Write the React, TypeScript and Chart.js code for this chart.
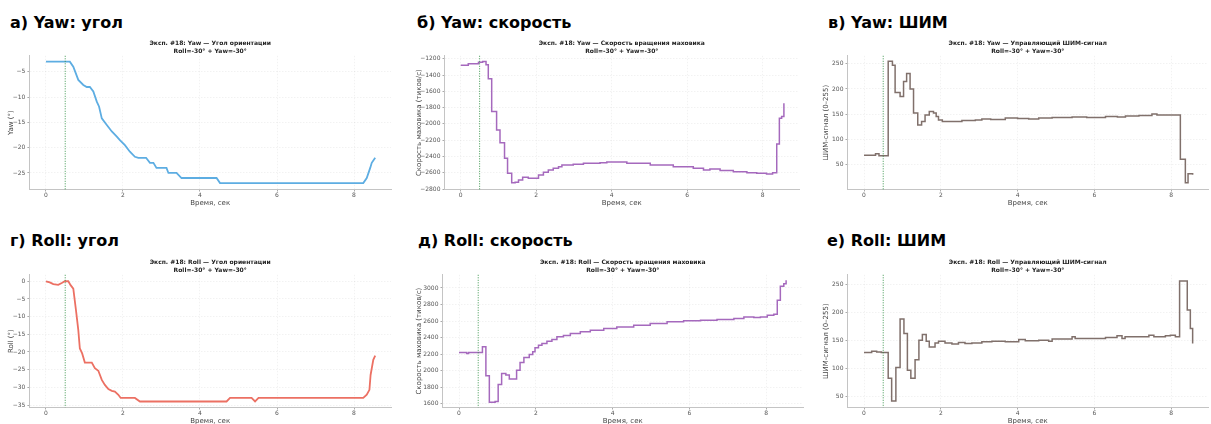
import React, { useEffect, useRef } from "react";
import { Chart, registerables } from "chart.js";

Chart.register(...registerables);

const FONT = "'DejaVu Sans', sans-serif";

// ---------- shared ----------
const timeTicks = [0, 2, 4, 6, 8];
const timeMin = -0.43;
const timeMax = 8.96;
const eventTime = 0.5;
const subtitleLine2 = "Roll=-30° + Yaw=-30°";
const xAxisTitle = "Время, сек";

// ---------- а) Yaw angle ----------
const yawAngleT = [0, 0.3, 0.62, 0.71, 0.84, 0.97, 1.06, 1.14, 1.23, 1.32, 1.38, 1.45, 1.58, 1.71, 1.84, 1.92, 2.05, 2.18, 2.31, 2.4, 2.6, 2.7, 2.79, 2.87, 3.13, 3.18, 3.39, 3.52, 4.43, 4.52, 8.24, 8.33, 8.42, 8.46, 8.55];
const yawAngleV = [-3, -3, -3, -4, -6.6, -7.6, -8, -8, -8.9, -10.9, -11.9, -14.2, -15.5, -16.8, -17.8, -18.5, -19.5, -20.8, -21.8, -22, -22, -23, -23, -24, -24, -25, -25, -26, -26, -27, -27, -26, -24, -23, -22];
const yawAngleTicks = [-25, -20, -15, -10, -5];

// ---------- б) Yaw wheel speed ----------
const yawSpeedT = [0, 0.2, 0.47, 0.58, 0.67, 0.73, 0.82, 0.95, 1.04, 1.16, 1.24, 1.35, 1.44, 1.53, 1.64, 1.79, 2.06, 2.19, 2.32, 2.45, 2.59, 2.68, 2.98, 3.25, 3.69, 3.87, 4.4, 5.02, 5.63, 6.16, 6.43, 6.6, 6.87, 7.22, 7.58, 7.84, 8.1, 8.26, 8.37, 8.44, 8.5, 8.56];
const yawSpeedV = [-1278, -1262, -1241, -1233, -1274, -1446, -1848, -2074, -2230, -2422, -2607, -2722, -2718, -2689, -2656, -2669, -2628, -2595, -2566, -2546, -2525, -2505, -2496, -2484, -2476, -2468, -2484, -2505, -2525, -2546, -2566, -2554, -2574, -2587, -2599, -2607, -2615, -2599, -2246, -1930, -1910, -1746];
const yawSpeedTicks = [-2800, -2600, -2400, -2200, -2000, -1800, -1600, -1400, -1200];

// ---------- в) Yaw PWM ----------
const yawPwmT = [0, 0.3, 0.39, 0.63, 0.74, 0.81, 0.94, 1.03, 1.11, 1.2, 1.29, 1.4, 1.5, 1.59, 1.7, 1.81, 1.88, 1.94, 2.04, 2.55, 2.9, 3.07, 3.3, 3.68, 4.0, 4.29, 4.55, 4.9, 5.42, 5.8, 6.29, 6.6, 6.81, 7.16, 7.5, 7.63, 8.24, 8.37, 8.44, 8.56];
const yawPwmV = [68, 71, 67, 255, 247, 193, 185, 215, 231, 200, 152, 128, 135, 148, 155, 152, 145, 138, 135, 137, 138, 140, 139, 142, 141, 140, 142, 143, 144, 143, 145, 144, 146, 147, 150, 148, 60, 13, 31, 29];
const pwmTicks = [50, 100, 150, 200, 250];

// ---------- г) Roll angle ----------
const rollAngleT = [0, 0.1, 0.19, 0.32, 0.41, 0.49, 0.58, 0.64, 0.71, 0.78, 0.84, 0.88, 0.94, 1.01, 1.19, 1.27, 1.36, 1.45, 1.53, 1.62, 1.71, 1.79, 1.88, 1.94, 2.31, 2.44, 4.69, 4.78, 5.34, 5.43, 5.52, 8.24, 8.33, 8.4, 8.43, 8.5, 8.55];
const rollAngleV = [0, -0.3, -0.8, -1, -0.5, 0, 0, -1.1, -2.1, -8.2, -13.8, -19, -20.4, -23, -23, -24.6, -25.3, -27.9, -29.3, -30.5, -31, -31.2, -32.1, -33, -33, -34, -34, -33, -33, -34, -33, -33, -32.1, -30.7, -26.5, -22.2, -21];
const rollAngleTicks = [-35, -30, -25, -20, -15, -10, -5, 0];

// ---------- д) Roll wheel speed ----------
const rollSpeedT = [0, 0.2, 0.25, 0.61, 0.7, 0.79, 0.94, 1.02, 1.11, 1.22, 1.31, 1.5, 1.59, 1.69, 1.83, 1.92, 1.98, 2.07, 2.16, 2.29, 2.42, 2.55, 2.72, 2.9, 3.16, 3.42, 3.77, 4.11, 4.55, 4.98, 5.42, 5.85, 6.29, 6.72, 7.16, 7.42, 7.68, 7.85, 8.03, 8.2, 8.29, 8.37, 8.46, 8.52];
const rollSpeedV = [2220, 2207, 2220, 2288, 1938, 1616, 1628, 1833, 1966, 1946, 1898, 2006, 2099, 2159, 2195, 2228, 2276, 2308, 2328, 2356, 2376, 2409, 2425, 2449, 2469, 2489, 2509, 2529, 2549, 2570, 2590, 2602, 2610, 2618, 2630, 2650, 2642, 2650, 2670, 2682, 2851, 3020, 3052, 3093];
const rollSpeedTicks = [1600, 1800, 2000, 2200, 2400, 2600, 2800, 3000];

// ---------- е) Roll PWM ----------
const rollPwmT = [0, 0.2, 0.33, 0.45, 0.63, 0.72, 0.83, 0.94, 1.04, 1.13, 1.22, 1.33, 1.43, 1.52, 1.62, 1.7, 1.85, 1.94, 2.11, 2.29, 2.46, 2.63, 2.81, 3.07, 3.33, 3.68, 4.03, 4.2, 4.55, 4.81, 4.9, 5.42, 5.5, 5.85, 6.29, 6.59, 6.72, 6.8, 7.16, 7.42, 7.55, 7.85, 7.98, 8.11, 8.22, 8.42, 8.5, 8.56];
const rollPwmV = [128, 130, 129, 128, 82, 41, 101, 188, 162, 96, 82, 115, 150, 160, 148, 138, 145, 148, 145, 143, 146, 144, 145, 147, 148, 147, 151, 149, 150, 148, 152, 156, 153, 153, 155, 158, 153, 156, 156, 159, 156, 158, 159, 156, 256, 204, 171, 144];

type Area = { L: number; R: number; T: number; B: number };
type PanelSpec = {
  label: string;
  title1: string;
  yTitle: string;
  t: number[];
  v: number[];
  stepped: boolean;
  color: string;
  lineWidth: number;
  yMin: number;
  yMax: number;
  yTicks: number[];
  area: Area;
  yTitleX: number;
  xTitleY: number;
  labelX: number;
  labelTop: number;
};

const ANGLE_BLUE = "#5dade2";
const ANGLE_RED = "#ec7063";
const SPEED_PURPLE = "#a569bd";
const PWM_BROWN = "#80706b";

const panels: PanelSpec[] = [
  {
    label: "а) Yaw: угол", title1: "Эксп. #18: Yaw — Угол ориентации", yTitle: "Yaw (°)",
    t: yawAngleT, v: yawAngleV, stepped: false, color: ANGLE_BLUE, lineWidth: 1.8,
    yMin: -28.27, yMax: -1.83, yTicks: yawAngleTicks,
    area: { L: 29.4, R: 390.9, T: 56, B: 189.5 }, yTitleX: 10.7, xTitleY: 202.7, labelX: 10, labelTop: 13,
  },
  {
    label: "б) Yaw: скорость", title1: "Эксп. #18: Yaw — Скорость вращения маховика", yTitle: "Скорость маховика (тиков/с)",
    t: yawSpeedT, v: yawSpeedV, stepped: true, color: SPEED_PURPLE, lineWidth: 1.5,
    yMin: -2806, yMax: -1163, yTicks: yawSpeedTicks,
    area: { L: 444.5, R: 799, T: 56, B: 189.5 }, yTitleX: 419.3, xTitleY: 202.7, labelX: 417, labelTop: 13,
  },
  {
    label: "в) Yaw: ШИМ", title1: "Эксп. #18: Yaw — Управляющий ШИМ-сигнал", yTitle: "ШИМ-сигнал (0–255)",
    t: yawPwmT, v: yawPwmV, stepped: true, color: PWM_BROWN, lineWidth: 1.5,
    yMin: -0.2, yMax: 266, yTicks: pwmTicks,
    area: { L: 847.5, R: 1207.5, T: 56, B: 189.5 }, yTitleX: 825.7, xTitleY: 202.7, labelX: 828, labelTop: 13,
  },
  {
    label: "г) Roll: угол", title1: "Эксп. #18: Roll — Угол ориентации", yTitle: "Roll (°)",
    t: rollAngleT, v: rollAngleV, stepped: false, color: ANGLE_RED, lineWidth: 1.8,
    yMin: -35.7, yMax: 1.83, yTicks: rollAngleTicks,
    area: { L: 29.4, R: 390.9, T: 274.5, B: 407.5 }, yTitleX: 10.7, xTitleY: 421, labelX: 10, labelTop: 231,
  },
  {
    label: "д) Roll: скорость", title1: "Эксп. #18: Roll — Скорость вращения маховика", yTitle: "Скорость маховика (тиков/с)",
    t: rollSpeedT, v: rollSpeedV, stepped: true, color: SPEED_PURPLE, lineWidth: 1.5,
    yMin: 1554, yMax: 3159, yTicks: rollSpeedTicks,
    area: { L: 442.5, R: 802.5, T: 274.5, B: 407.5 }, yTitleX: 419.3, xTitleY: 421, labelX: 418, labelTop: 231,
  },
  {
    label: "е) Roll: ШИМ", title1: "Эксп. #18: Roll — Управляющий ШИМ-сигнал", yTitle: "ШИМ-сигнал (0–255)",
    t: rollPwmT, v: rollPwmV, stepped: true, color: PWM_BROWN, lineWidth: 1.5,
    yMin: 29.5, yMax: 267, yTicks: pwmTicks,
    area: { L: 847.5, R: 1207.5, T: 274.5, B: 407.5 }, yTitleX: 825.7, xTitleY: 421, labelX: 827, labelTop: 231,
  },
];

const fmt = (v: number) => String(v).replace("-", "\u2212");

function Panel({ p }: { p: PanelSpec }) {
  const ref = useRef<HTMLCanvasElement>(null);
  const canvasLeft = Math.round(p.yTitleX - 6);
  const canvasTop = Math.round(p.area.T - 20);
  const rightPad = 3;
  const width = Math.round(p.area.R + rightPad - canvasLeft);
  const canvasBottom = Math.round(p.xTitleY + 6);
  const height = canvasBottom - canvasTop;
  const yw = p.area.L - canvasLeft;
  const xh = canvasBottom - p.area.B;

  useEffect(() => {
    const eventLine = {
      id: "eventLine",
      afterDatasetsDraw(chart: any) {
        const { ctx, chartArea, scales } = chart;
        const x = scales.x.getPixelForValue(eventTime);
        ctx.save();
        ctx.strokeStyle = "rgba(40,140,60,0.9)";
        ctx.lineWidth = 1;
        ctx.setLineDash([1, 1.5]);
        ctx.beginPath();
        ctx.moveTo(x, chartArea.top);
        ctx.lineTo(x, chartArea.bottom);
        ctx.stroke();
        ctx.restore();
      },
    };
    const tickFont = { family: FONT, size: 6 };
    const chart = new Chart(ref.current as HTMLCanvasElement, {
      type: "line",
      data: {
        datasets: [
          {
            data: p.t.map((t, i) => ({ x: t, y: p.v[i] })),
            borderColor: p.color,
            borderWidth: p.lineWidth,
            pointRadius: 0,
            stepped: p.stepped ? "before" : false,
            tension: 0,
            fill: false,
          } as any,
        ],
      },
      options: {
        responsive: false,
        animation: false,
        devicePixelRatio: 1,
        layout: { padding: { left: 0, right: rightPad, top: 0, bottom: 0 }, autoPadding: false } as any,
        plugins: {
          legend: { display: false },
          tooltip: { enabled: false },
          title: {
            display: true,
            text: [p.title1, subtitleLine2],
            font: { family: FONT, size: 6, weight: "bold", lineHeight: 1.4 },
            color: "#222",
            padding: { top: 3, bottom: 0 },
            fullSize: false,
          },
        },
        scales: {
          x: {
            type: "linear",
            min: timeMin,
            max: timeMax,
            afterBuildTicks: (s: any) => {
              s.ticks = timeTicks.map((v) => ({ value: v }));
            },
            afterFit: (s: any) => {
              s.height = xh;
            },
            ticks: { font: tickFont, color: "#555", padding: 0, maxRotation: 0, autoSkip: false, callback: (v: any) => fmt(v) },
            grid: { color: "rgba(0,0,0,0.05)", tickLength: 2, tickColor: "#aaa" },
            border: { color: "#c4c4c4", dash: [1.5, 1.5] },
            title: { display: true, text: xAxisTitle, font: { family: FONT, size: 7 }, color: "#444", padding: { top: 0, bottom: 1.8 } },
          },
          y: {
            type: "linear",
            min: p.yMin,
            max: p.yMax,
            afterBuildTicks: (s: any) => {
              s.ticks = p.yTicks.map((v) => ({ value: v }));
            },
            afterFit: (s: any) => {
              s.width = yw;
            },
            ticks: { font: tickFont, color: "#555", padding: 2, autoSkip: false, callback: (v: any) => fmt(v) },
            grid: { color: "rgba(0,0,0,0.05)", tickLength: 2, tickColor: "#aaa" },
            border: { color: "#c4c4c4", dash: [1.5, 1.5] },
            title: { display: true, text: p.yTitle, font: { family: FONT, size: 7 }, color: "#444", padding: { top: 1.8, bottom: 0 } },
          },
        },
      } as any,
      plugins: [eventLine],
    });
    return () => chart.destroy();
  }, []);

  return (
    <canvas
      ref={ref}
      width={width}
      height={height}
      style={{ position: "absolute", left: canvasLeft, top: canvasTop, width, height }}
    />
  );
}

export default function App() {
  return (
    <div
      style={{
        position: "absolute",
        left: 0,
        top: 0,
        width: 1211,
        height: 424,
        overflow: "hidden",
        background: "#fff",
      }}
    >
      {panels.map((p, i) => (
        <React.Fragment key={i}>
          <div
            style={{
              position: "absolute",
              left: p.labelX,
              top: p.labelTop,
              fontFamily: FONT,
              fontWeight: "bold",
              fontSize: 16,
              lineHeight: "20px",
              color: "#000",
              whiteSpace: "nowrap",
            }}
          >
            {p.label}
          </div>
          <Panel p={p} />
        </React.Fragment>
      ))}
    </div>
  );
}
